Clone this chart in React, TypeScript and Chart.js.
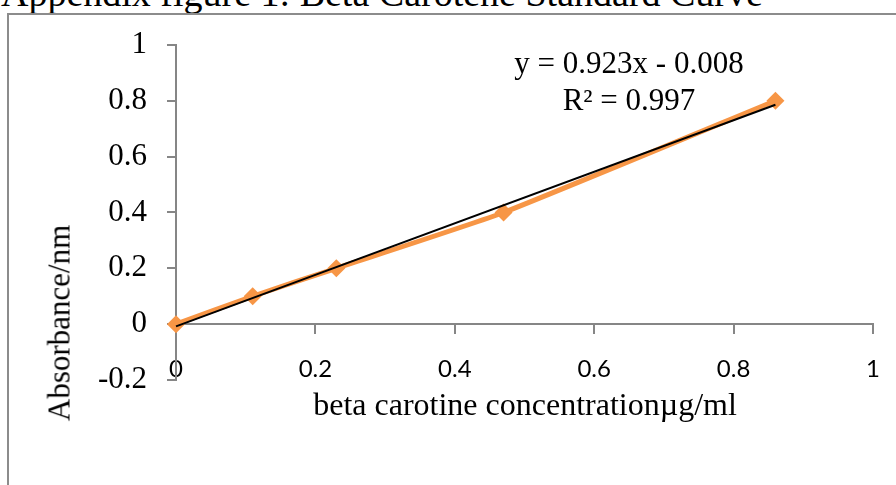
import React, { useEffect, useRef } from "react";
import { Chart, registerables } from "chart.js";

Chart.register(...registerables);

const concentration = [0, 0.11, 0.23, 0.47, 0.86];
const absorbance = [0, 0.1, 0.2, 0.4, 0.8];
const trendX = [0, 0.86];
const trendY = [-0.008, 0.786];
const xTicks = [0, 0.2, 0.4, 0.6, 0.8, 1];
const yTicks = [-0.2, 0, 0.2, 0.4, 0.6, 0.8, 1];
const titleText = "Appendix figure 1: Beta Carotene Standard Curve";
const xTitle = "beta carotine concentrationµg/ml";
const yTitle = "Absorbance/nm";
const equation = "y = 0.923x - 0.008";
const rSquared = "R² = 0.997";

const ORANGE = "#F79646";
const AXIS = "#868686";
const SERIF = "'Liberation Serif', 'Times New Roman', serif";

export default function App() {
  const ref = useRef<HTMLCanvasElement | null>(null);

  useEffect(() => {
    if (!ref.current) return;
    const chart = new Chart(ref.current, {
      type: "scatter",
      data: {
        datasets: [
          {
            label: "trend",
            data: trendX.map((x, i) => ({ x, y: trendY[i] })),
            showLine: true,
            borderColor: "#000000",
            borderWidth: 2,
            pointRadius: 0,
            order: 0,
          },
          {
            label: "absorbance",
            data: concentration.map((x, i) => ({ x, y: absorbance[i] })),
            showLine: true,
            borderColor: ORANGE,
            backgroundColor: ORANGE,
            borderWidth: 5,
            tension: 0.15,
            pointStyle: "rectRot",
            pointRadius: 9,
            pointBorderWidth: 0,
            order: 1,
          },
        ],
      },
      options: {
        responsive: false,
        animation: false,
        devicePixelRatio: 1,
        clip: false,
        layout: { padding: { left: 0, top: 45, right: 23, bottom: 105 } },
        plugins: { legend: { display: false }, tooltip: { enabled: false } },
        scales: {
          x: {
            type: "linear",
            position: { y: 0 },
            min: 0,
            max: 1,
            afterBuildTicks: (s: any) => {
              s.ticks = xTicks.map((v) => ({ value: v }));
            },
            afterFit: (s: any) => {
              s.paddingLeft = 0;
              s.paddingRight = 0;
            },
            ticks: {
              color: "#000",
              font: { family: "Lato", size: 24 },
              padding: 22,
              maxRotation: 0,
              autoSkip: false,
              callback: (v: any) => String(Math.round(Number(v) * 10) / 10),
            },
            grid: {
              drawOnChartArea: false,
              drawTicks: true,
              tickLength: 9,
              color: AXIS,
              lineWidth: 2,
            },
            border: { display: true, color: AXIS, width: 2 },
          },
          y: {
            type: "linear",
            position: "left",
            min: -0.2,
            max: 1,
            afterBuildTicks: (s: any) => {
              s.ticks = yTicks.map((v) => ({ value: v }));
            },
            afterFit: (s: any) => {
              s.width = 176;
            },
            ticks: {
              color: "#000",
              font: { family: "Liberation Serif", size: 31 },
              padding: 20,
              autoSkip: false,
              callback: (v: any) => String(Math.round(Number(v) * 10) / 10),
            },
            grid: {
              drawOnChartArea: false,
              drawTicks: true,
              tickLength: 9,
              color: AXIS,
              lineWidth: 2,
            },
            border: { display: true, color: AXIS, width: 2 },
          },
        },
      },
    } as any);
    return () => chart.destroy();
  }, []);

  const text: React.CSSProperties = {
    position: "absolute",
    fontFamily: SERIF,
    fontSize: 31,
    lineHeight: "31px",
    color: "#000",
    whiteSpace: "nowrap",
  };

  return (
    <div
      style={{
        position: "fixed",
        left: 0,
        top: 0,
        width: 896,
        height: 485,
        overflow: "hidden",
        background: "#fff",
      }}
    >
      <div style={{ ...text, fontSize: 38, lineHeight: "38px", left: 1, top: -26 }}>{titleText}</div>
      <div
        style={{
          position: "absolute",
          left: 7,
          top: 13,
          width: 1000,
          height: 1000,
          border: "2px solid #8c8c8c",
          boxSizing: "border-box",
        }}
      />
      <canvas
        ref={ref}
        width={896}
        height={485}
        style={{ position: "absolute", left: 0, top: 0, width: 896, height: 485 }}
      />
      <div
        style={{
          ...text,
          left: 59,
          top: 323,
          transform: "translate(-50%, -50%) rotate(-90deg)",
        }}
      >
        {yTitle}
      </div>
      <div style={{ ...text, fontSize: 32, lineHeight: "32px", left: 525, top: 388, transform: "translateX(-50%)" }}>{xTitle}</div>
      <div style={{ ...text, left: 629, top: 47, transform: "translateX(-50%)" }}>{equation}</div>
      <div style={{ ...text, left: 629, top: 84, transform: "translateX(-50%)" }}>{rSquared}</div>
    </div>
  );
}
